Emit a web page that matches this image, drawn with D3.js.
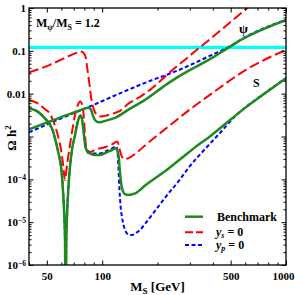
<!DOCTYPE html>
<html>
<head>
<meta charset="utf-8">
<script src="https://cdn.jsdelivr.net/npm/d3@7"></script>
<style>
  html, body { margin: 0; padding: 0; background: #fff; }
  svg { display: block; }
  text { font-family: "Liberation Serif", "Times New Roman", serif; font-weight: bold; }
</style>
</head>
<body>
<script>
// relic density vs M_S, M_psi/M_S = 1.2  -- [M_S (GeV), Omega h^2]
const benchPsi = [
  [40, 0.00147], [52.0, 0.00225], [66.8, 0.00337], [77.7, 0.00423], [83.8, 0.00471],
  [85.9, 0.00453], [87.5, 0.00396], [89.2, 0.00303], [91.4, 0.00244], [94.4, 0.00219],
  [97.4, 0.00216], [103.6, 0.00232], [117.5, 0.00272], [138.3, 0.00418], [171.1, 0.00716],
  [228.2, 0.0174], [258.7, 0.0247], [396, 0.0686], [484, 0.1175], [599, 0.203],
  [769, 0.336], [1000, 0.522]
];
const benchS = [
  [40, 0.00458], [44.8, 0.00376], [48.7, 0.00268], [52.0, 0.00187], [53.7, 0.00143],
  [55.4, 0.000903], [57.5, 0.000461], [60.0, 0.000166], [61.2, 0.0000565], [62.2, 0.0000147],
  [62.8, 0.0000038], [63.2, 1e-7], [63.5, 1e-7], [63.8, 0.0000038], [64.4, 0.0000147],
  [65.4, 0.0000565], [66.6, 0.000166], [68.5, 0.000486], [70.9, 0.000995], [73.0, 0.00187],
  [74.8, 0.00272], [76.1, 0.00311], [77.2, 0.00287], [78.7, 0.0017], [80.0, 0.000928],
  [81.0, 0.000581], [82.7, 0.000461], [85.9, 0.000403], [91.1, 0.000372], [97.4, 0.000372],
  [103.2, 0.000407], [110.4, 0.000461], [119.4, 0.000533], [121.2, 0.00045], [123.0, 0.00034],
  [124.5, 0.00018], [126.1, 0.0000968], [128.2, 0.000063], [130.7, 0.0000494], [134.0, 0.0000445],
  [138.3, 0.0000432], [151.0, 0.0000468], [171.1, 0.000072], [228.2, 0.000175], [307, 0.000486],
  [394.5, 0.00109], [599, 0.00466], [769, 0.0102], [1000, 0.0228]
];
const ysPsi = [
  [40, 0.0315], [52.0, 0.0471], [64.4, 0.0724], [71.2, 0.0874], [75.8, 0.0973],
  [78.7, 0.0923], [81.2, 0.0724], [83.2, 0.036], [85.4, 0.01605], [87.5, 0.00716],
  [90.3, 0.00418], [93.8, 0.0032], [97.4, 0.00295], [103.6, 0.00303], [110.4, 0.00328],
  [125.1, 0.00396], [138.3, 0.00578], [160.7, 0.00842], [182.1, 0.01227], [228.2, 0.029],
  [320.1, 0.0973], [437.7, 0.293], [577, 0.793], [638, 1.13]
];
const ysS = [
  [40, 0.00716], [44.2, 0.0061], [48.7, 0.00441], [52.0, 0.00337], [55.4, 0.00177],
  [57.5, 0.00103], [60.0, 0.000437], [61.6, 0.000185], [62.6, 0.0000968], [64.6, 0.000242],
  [66.6, 0.000581], [68.7, 0.00135], [70.9, 0.00292], [73.4, 0.00519], [76.1, 0.00654],
  [77.7, 0.00562], [79.0, 0.00376], [80.2, 0.00159], [81.2, 0.000748], [82.7, 0.000461],
  [84.3, 0.000407], [87.0, 0.000437], [91.1, 0.000486], [103.2, 0.000562], [113.2, 0.000654],
  [120.9, 0.00076], [123.0, 0.000636], [125.1, 0.000461], [128.7, 0.000325], [132.7, 0.000295],
  [138.3, 0.000308], [151.0, 0.000392], [171.1, 0.00062], [228.2, 0.00168], [300.6, 0.0043],
  [396, 0.0102], [599, 0.035], [1000, 0.1055]
];
const ypPsi = [
  [40, 0.00125], [59.0, 0.00258], [85.9, 0.00505], [125.1, 0.0102], [171.1, 0.0179],
  [258.7, 0.035], [396, 0.0806], [484, 0.12], [599, 0.21], [769, 0.345], [1000, 0.53]
];
const ypS = [
  [40, 0.00458], [44.8, 0.00376], [48.7, 0.00268], [52.0, 0.00187], [53.7, 0.00143],
  [55.4, 0.000903], [57.5, 0.000461], [60.0, 0.000166], [61.2, 0.0000565], [62.2, 0.0000147],
  [62.8, 0.0000038], [63.2, 1e-7], [63.5, 1e-7], [63.8, 0.0000038], [64.4, 0.0000147],
  [65.4, 0.0000565], [66.6, 0.000166], [68.5, 0.000486], [70.9, 0.000995], [73.0, 0.00187],
  [74.8, 0.00272], [76.1, 0.00311], [77.2, 0.00287], [78.7, 0.0017], [80.0, 0.000928],
  [81.0, 0.000581], [82.7, 0.00049], [85.9, 0.00043], [91.1, 0.0004], [97.4, 0.0004],
  [103.2, 0.00044], [110.4, 0.0005], [119.4, 0.00058], [121.2, 0.00044], [122.8, 0.000166],
  [124.3, 0.0000565], [125.8, 0.0000252], [128.2, 0.0000132], [130.7, 0.0000086], [134.0, 0.0000062],
  [138.3, 0.0000052], [144.9, 0.000005], [152.9, 0.0000056], [160.7, 0.0000066], [171.1, 0.0000091],
  [193.9, 0.0000183], [228.2, 0.0000456], [258.7, 0.000087], [300.6, 0.000206], [367.3, 0.000541],
  [437.7, 0.00121], [528, 0.00295], [599, 0.0047], [769, 0.0104], [1000, 0.0232]
];
const planckOmega = 0.12;

const xMajor = [50, 100, 500, 1000];
const xMinor = [40, 60, 70, 80, 90, 200, 300, 400, 600, 700, 800, 900];
const yMajor = [1e-6, 1e-5, 1e-4, 1e-3, 1e-2, 1e-1, 1];
const yTickText = [['10', '−6'], ['10', '−5'], ['10', '−4'], null, ['0.01'], ['0.1'], ['1']];
const yMinor = [];
for (let k = -6; k < 0; k++) for (let m = 2; m <= 9; m++) yMinor.push(m * Math.pow(10, k));

const W = 295, H = 295;
const margin = {top: 8, right: 9, bottom: 30, left: 29},
    width = W - margin.left - margin.right,
    height = H - margin.top - margin.bottom;

const svg = d3.select('body').append('svg').attr('width', W).attr('height', H);
svg.append('rect').attr('width', W).attr('height', H).attr('fill', '#fff');
const g = svg.append('g').attr('transform', 'translate(' + margin.left + ',' + margin.top + ')');

const x = d3.scaleLog().domain([40, 1000]).range([0, width]);
const y = d3.scaleLog().domain([1e-6, 1]).range([height, 0]);

g.append('clipPath').attr('id', 'clip')
  .append('rect').attr('width', width).attr('height', height);

// Planck band
g.append('line')
  .attr('x1', 0).attr('x2', width)
  .attr('y1', y(planckOmega)).attr('y2', y(planckOmega))
  .attr('stroke', '#00ffff').attr('stroke-width', 3.2);

const line = d3.line().x(d => x(d[0])).y(d => y(d[1])).curve(d3.curveMonotoneX);
const curves = g.append('g').attr('clip-path', 'url(#clip)').attr('fill', 'none');

const green = '#1d8a1d', red = '#ff0000', blue = '#0000ff';
[ypS, ypPsi].forEach(d => curves.append('path').attr('d', line(d))
  .attr('stroke', blue).attr('stroke-width', 2).attr('stroke-dasharray', '4,2.5'));
[ysS, ysPsi].forEach(d => curves.append('path').attr('d', line(d))
  .attr('stroke', red).attr('stroke-width', 2).attr('stroke-dasharray', '10,4'));
[benchS, benchPsi].forEach(d => curves.append('path').attr('d', line(d))
  .attr('stroke', green).attr('stroke-width', 2.5));

// axes, ticks inward on all sides
function styleAxis(sel) {
  sel.select('.domain').remove();
  sel.selectAll('.tick line').attr('stroke', '#000').attr('stroke-width', 1);
  sel.attr('font-family', '"Liberation Serif", serif').attr('font-size', 11).attr('font-weight', 'bold');
}
const bottom = g.append('g').attr('transform', 'translate(0,' + height + ')')
  .call(d3.axisBottom(x).tickValues(xMajor).tickSize(-4.5).tickPadding(7).tickFormat(d3.format('d')));
styleAxis(bottom);
bottom.selectAll('.tick text').filter(d => d === 1000).attr('dx', -3);
g.append('g').attr('transform', 'translate(0,' + height + ')')
  .call(d3.axisBottom(x).tickValues(xMinor).tickSize(-2.5).tickFormat('')).call(styleAxis);
g.append('g').call(d3.axisTop(x).tickValues(xMajor).tickSize(-4.5).tickFormat('')).call(styleAxis);
g.append('g').call(d3.axisTop(x).tickValues(xMinor).tickSize(-2.5).tickFormat('')).call(styleAxis);

const left = g.append('g')
  .call(d3.axisLeft(y).tickValues(yMajor).tickSize(-4.5).tickPadding(3).tickFormat(''));
styleAxis(left);
left.selectAll('.tick text').each(function(d, i) {
  const t = d3.select(this);
  const spec = yTickText[i];
  if (!spec) return;
  t.text(spec[0]);
  if (spec.length > 1) {
    t.append('tspan').attr('font-size', 7.5).attr('dy', '-0.45em').text(spec[1]);
  }
});
g.append('g').call(d3.axisLeft(y).tickValues(yMinor).tickSize(-2.5).tickFormat('')).call(styleAxis);
g.append('g').attr('transform', 'translate(' + width + ',0)')
  .call(d3.axisRight(y).tickValues(yMajor).tickSize(-4.5).tickFormat('')).call(styleAxis);
g.append('g').attr('transform', 'translate(' + width + ',0)')
  .call(d3.axisRight(y).tickValues(yMinor).tickSize(-2.5).tickFormat('')).call(styleAxis);

g.append('rect').attr('width', width).attr('height', height)
  .attr('fill', 'none').attr('stroke', '#000').attr('stroke-width', 1.3);

// title text
const title = g.append('text').attr('x', 7).attr('y', 19.3).attr('font-size', 12);
title.append('tspan').text('M');
title.append('tspan').attr('font-size', 8).attr('dy', 3).text('ψ');
title.append('tspan').attr('dy', -3).text('/M');
title.append('tspan').attr('font-size', 8).attr('dy', 3).text('S');
title.append('tspan').attr('dy', -3).text(' = 1.2');

g.append('text').attr('x', 210).attr('y', 25).attr('font-size', 13).text('ψ');
g.append('text').attr('x', 224).attr('y', 79).attr('font-size', 12).text('S');

// axis labels
const xl = svg.append('text').attr('x', margin.left + width / 2).attr('y', 291)
  .attr('text-anchor', 'middle').attr('font-size', 13);
xl.append('tspan').text('M');
xl.append('tspan').attr('font-size', 9).attr('dy', 3).text('S');
xl.append('tspan').attr('dy', -3).text(' [GeV]');

const yl = svg.append('text').attr('transform', 'translate(15.5,138) rotate(-90)')
  .attr('text-anchor', 'middle').attr('font-size', 13);
yl.append('tspan').text('Ω h');
yl.append('tspan').attr('font-size', 9).attr('dy', -5).text('2');

// legend
const legendItems = [
  {stroke: green, dash: null, width: 2.5, y: 208.7},
  {stroke: red, dash: '8,3', width: 2, y: 224.3},
  {stroke: blue, dash: '4,2.5', width: 2, y: 237}
];
const leg = g.append('g');
legendItems.forEach(function(it, i) {
  leg.append('line').attr('x1', 156).attr('x2', 174).attr('y1', it.y).attr('y2', it.y)
    .attr('stroke', it.stroke).attr('stroke-width', it.width)
    .attr('stroke-dasharray', it.dash);
});
leg.append('text').attr('x', 188).attr('y', 213).attr('font-size', 12).text('Benchmark');
const t1 = leg.append('text').attr('x', 187).attr('y', 228.3).attr('font-size', 12);
t1.append('tspan').attr('font-style', 'italic').text('y');
t1.append('tspan').attr('font-style', 'italic').attr('font-size', 8).attr('dy', 2).text('s');
t1.append('tspan').attr('dy', -2).text(' = 0');
const t2 = leg.append('text').attr('x', 187).attr('y', 241).attr('font-size', 12);
t2.append('tspan').attr('font-style', 'italic').text('y');
t2.append('tspan').attr('font-style', 'italic').attr('font-size', 8).attr('dy', 2).text('p');
t2.append('tspan').attr('dy', -2).text(' = 0');
</script>
</body>
</html>
